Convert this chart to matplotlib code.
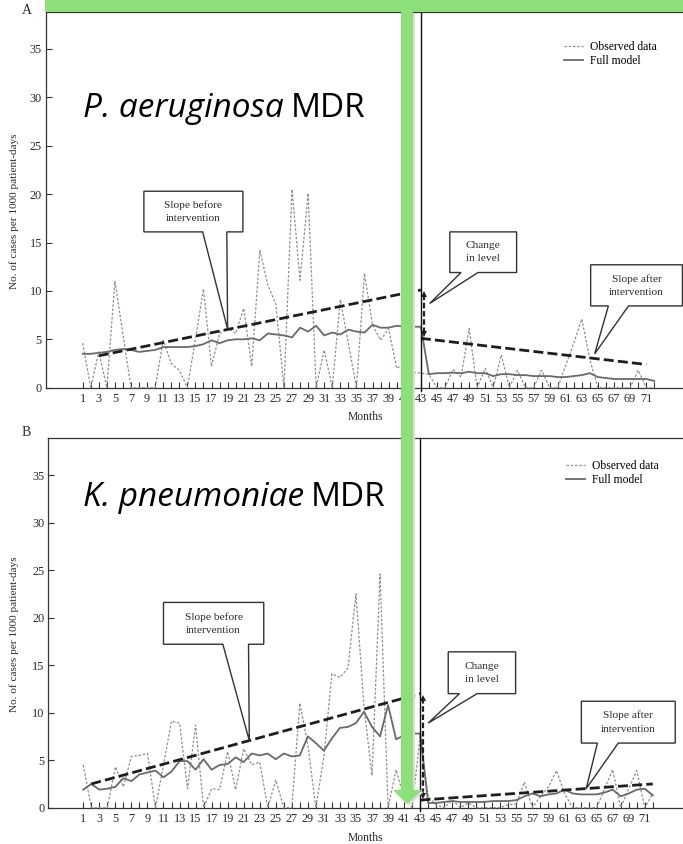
import matplotlib
matplotlib.use("Agg")
import matplotlib.pyplot as plt
from matplotlib.patches import Polygon, Rectangle
from matplotlib.lines import Line2D

# ---------------------------------------------------------------- data
months = list(range(1, 73))
month_tick_labels = [str(m) if m % 2 else "" for m in months]
y_ticks = [0, 5, 10, 15, 20, 25, 30, 35]
intervention_month = 43

# P. aeruginosa MDR, cases per 1000 patient-days
obs_pa = [4.6, 0.0, 3.7, 0.0, 11.0, 5.5, 0.0, 0.0, 0.0, 0.0,
          4.9, 2.5, 1.8, 0.0, 5.0, 10.2, 2.2, 5.6, 6.2, 5.6,
          8.2, 2.2, 14.2, 10.6, 8.6, 0.0, 20.5, 11.1, 20.1, 0.0,
          3.9, 0.0, 9.1, 4.6, 0.0, 11.8, 6.5, 4.9, 6.1, 2.0,
          2.5, 1.6, 1.5, 1.4, 0.0, 0.0, 1.9, 1.1, 6.1, 0.0,
          2.0, 0.0, 3.4, 0.0, 1.8, 0.0, 0.0, 1.8, 0.0, 0.0,
          2.3, 4.6, 7.1, 2.9, 0.0, 0.0, 0.0, 0.0, 0.0, 1.8,
          0.0, 0.0]
model_pa = [3.5, 3.5, 3.6, 3.7, 3.9, 4.0, 3.9, 3.7, 3.8, 3.9,
            4.2, 4.2, 4.2, 4.2, 4.3, 4.5, 4.9, 4.6, 4.9, 5.0,
            5.0, 5.1, 4.9, 5.6, 5.5, 5.4, 5.2, 6.2, 5.8, 6.4,
            5.4, 5.7, 5.5, 6.0, 5.8, 5.7, 6.5, 6.2, 6.2, 6.4,
            6.3, 6.3, 6.3, 1.4, 1.5, 1.5, 1.55, 1.5, 1.65, 1.5,
            1.5, 1.2, 1.4, 1.4, 1.3, 1.3, 1.2, 1.2, 1.2, 1.1,
            1.1, 1.2, 1.3, 1.5, 1.1, 1.0, 0.9, 0.9, 0.9, 0.9,
            0.9, 0.7]
trend_pa_pre_months = [3, 43]
trend_pa_pre = [3.3, 10.1]
trend_pa_post_months = [43, 71]
trend_pa_post = [5.1, 2.4]

# K. pneumoniae MDR, cases per 1000 patient-days
obs_kp = [4.5, 0.0, 0.0, 0.0, 4.3, 2.2, 5.4, 5.5, 5.7, 0.0,
          4.5, 9.1, 8.9, 2.0, 8.7, 0.0, 2.0, 1.9, 5.9, 1.9,
          6.2, 4.5, 4.8, 0.0, 2.9, 0.0, 0.0, 11.0, 6.6, 0.0,
          5.4, 14.1, 13.7, 14.7, 22.5, 10.6, 3.4, 24.6, 0.0, 4.0,
          1.0, 0.0, 7.5, 1.2, 0.3, 0.0, 0.8, 0.0, 0.5, 0.0,
          0.0, 0.0, 0.0, 0.3, 0.4, 2.7, 0.0, 1.2, 2.2, 3.9,
          1.5, 0.0, 0.0, 0.0, 0.0, 2.0, 4.0, 0.0, 2.0, 3.9,
          0.0, 1.5]
model_kp = [1.9, 2.5, 1.9, 2.0, 2.2, 3.1, 2.8, 3.5, 3.7, 3.9,
            3.2, 3.8, 4.9, 4.9, 4.0, 5.1, 4.0, 4.5, 4.6, 5.3,
            4.8, 5.7, 5.5, 5.7, 5.1, 5.7, 5.4, 5.5, 7.5, 6.8,
            6.0, 7.3, 8.4, 8.5, 8.9, 10.1, 8.5, 7.5, 10.8, 7.2,
            7.6, 7.8, 7.8, 0.5, 0.5, 0.6, 0.7, 0.6, 0.6, 0.6,
            0.6, 0.7, 0.7, 0.7, 0.8, 1.2, 1.5, 1.2, 1.4, 1.5,
            1.9, 1.5, 1.4, 1.4, 1.4, 1.6, 1.9, 1.2, 1.5, 1.9,
            2.0, 1.3]
trend_kp_pre_months = [2, 43]
trend_kp_pre = [2.5, 12.0]
trend_kp_post_months = [43, 72]
trend_kp_post = [0.8, 2.5]

legend_labels = ["Observed data", "Full model"]
callout_texts = ["Slope before\nintervention", "Change\nin level",
                 "Slope after\nintervention"]
y_label = "No. of cases per 1000 patient-days"
x_label = "Months"

# ---------------------------------------------------------------- figure
W, H = 683, 844
fig = plt.figure(figsize=(W / 100, H / 100), dpi=100)
fig.patch.set_facecolor("white")

SERIF = ["Liberation Serif", "DejaVu Serif"]
TITLE_FONT = ["Open Sans", "DejaVu Sans"]
INK = "#2a2a2a"
OBS_C = "#8f8f8f"
MOD_C = "#6a6a6a"
GREEN = "#8be07a"


def fx(px):
    return px / W


def fy(py):
    return 1 - py / H


def callout(ax, box, base, tip, text):
    x0, x1, y0, y1 = box
    pts = [(x0, y1), (x1, y1), (x1, y0), (base[1], y0), tip,
           (base[0], y0), (x0, y0)]
    ax.add_patch(Polygon(pts, closed=True, facecolor="white",
                         edgecolor="#333333", lw=1.0, zorder=6,
                         joinstyle="miter"))
    ax.text((x0 + x1) / 2, (y0 + y1) / 2, text, ha="center", va="center",
            family=SERIF, fontsize=8.2, color=INK, linespacing=1.6,
            zorder=7)


def panel(rect, xlim, ylim, obs, model, pre_m, pre_v, post_m, post_v,
          callouts, legend_xy):
    ax = fig.add_axes(rect)
    ax.set_xlim(*xlim)
    ax.set_ylim(*ylim)
    ax.spines["right"].set_visible(False)
    for side in ("left", "bottom", "top"):
        ax.spines[side].set_color("#333333")
        ax.spines[side].set_linewidth(0.9)

    ax.plot(months, obs, color=OBS_C, lw=0.9, ls=(0, (2.0, 1.4)),
            zorder=3, clip_on=False)
    ax.plot(months, model, color=MOD_C, lw=1.3, zorder=4)

    ax.plot(pre_m, pre_v, color="#1e1e1e", lw=2.0, ls=(0, (3.6, 1.5)),
            zorder=5)
    ax.plot(post_m, post_v, color="#1e1e1e", lw=2.0, ls=(0, (3.6, 1.5)),
            zorder=5)

    # change in level between the two segments
    xa = intervention_month + 0.35
    top, bottom = pre_v[-1], post_v[0]
    ax.plot([xa, xa], [bottom + 0.6, top - 0.6], color="#1e1e1e", lw=1.6,
            ls=(0, (2.5, 1.2)), zorder=5)
    ax.plot([xa], [top - 0.45], marker="^", ms=5, color="#1e1e1e",
            zorder=5, mew=0)
    ax.plot([xa], [bottom + 0.45], marker="v", ms=5, color="#1e1e1e",
            zorder=5, mew=0)

    ax.plot([intervention_month] * 2, [-0.35, ylim[1]], color="#111111",
            lw=1.0, zorder=5, clip_on=False)

    ax.set_xticks(months)
    ax.set_xticklabels(month_tick_labels)
    ax.set_yticks(y_ticks)
    ax.tick_params(axis="x", direction="in", length=4, width=0.8,
                   colors="#333333", pad=3.5, labelsize=8.8,
                   labelcolor=INK)
    ax.tick_params(axis="y", direction="in", length=4, width=0.8,
                   colors="#333333", pad=3, labelsize=8.8,
                   labelcolor=INK)
    for lab in ax.get_xticklabels() + ax.get_yticklabels():
        lab.set_family(SERIF)

    for (box, base, tip), txt in zip(callouts, callout_texts):
        callout(ax, box, base, tip, txt)

    handles = [Line2D([], [], color=OBS_C, lw=0.9, ls=(0, (2.0, 1.4))),
               Line2D([], [], color=MOD_C, lw=1.3)]
    ax.legend(handles, legend_labels, loc="upper left",
              bbox_to_anchor=(fx(legend_xy[0]), fy(legend_xy[1])),
              bbox_transform=fig.transFigure, frameon=False,
              prop={"family": SERIF, "size": 8.4}, handlelength=1.6,
              handletextpad=0.6, labelspacing=0.2, borderpad=0,
              borderaxespad=0)
    return ax


callouts_pa = [
    ((8.6, 20.9, 16.1, 20.3), (15.9, 18.9), (19.0, 6.05)),
    ((46.6, 54.9, 11.9, 16.1), (48.0, 50.1), (44.1, 8.7)),
    ((64.1, 75.5, 8.45, 12.7), (66.3, 68.8), (64.6, 3.5)),
]
callouts_kp = [
    ((11.0, 23.5, 17.2, 21.6), (18.4, 21.6), (21.7, 7.05)),
    ((46.5, 54.9, 12.0, 16.4), (47.9, 50.1), (44.0, 8.9)),
    ((63.1, 74.8, 6.8, 11.2), (65.1, 67.7), (63.7, 2.0)),
]

ax_a = panel([fx(46), fy(387.7), fx(W - 46), 376 / H], (-3.56, 75.57),
             (0, 38.85), obs_pa, model_pa, trend_pa_pre_months,
             trend_pa_pre, trend_pa_post_months, trend_pa_post,
             callouts_pa, (564, 41))
ax_b = panel([fx(48.3), fy(807.7), fx(W - 48.3), 369.7 / H],
             (-3.36, 75.77), (0, 38.9), obs_kp, model_kp,
             trend_kp_pre_months, trend_kp_pre, trend_kp_post_months,
             trend_kp_post, callouts_kp, (566, 460))

# axis labels and panel letters
for yc, ym in ((211, 417), (634, 838)):
    fig.text(fx(14), fy(yc), y_label, rotation=90, ha="center",
             va="center", family=SERIF, fontsize=8.1, color=INK)
    fig.text(fx(365), fy(ym), x_label, ha="center", va="center",
             family=SERIF, fontsize=8.4, color=INK)
fig.text(fx(27), fy(11), "A", ha="center", va="center", family=SERIF,
         fontsize=10, color=INK)
fig.text(fx(26), fy(433), "B", ha="center", va="center", family=SERIF,
         fontsize=10, color=INK)

# organism titles: italic genus/species followed by upright "MDR"
renderer = fig.canvas.get_renderer()
for name, base_y in (("P. aeruginosa", 117), ("K. pneumoniae", 505.5)):
    t = fig.text(fx(83), fy(base_y), name, ha="left", va="baseline",
                 family=TITLE_FONT, style="italic", fontsize=24,
                 color="black")
    bb = t.get_window_extent(renderer=renderer)
    fig.text(bb.x1 / W + fx(7), fy(base_y), "MDR", ha="left",
             va="baseline", family=TITLE_FONT, fontsize=24,
             color="black")

# green overlay: top band and downward arrow
fig.add_artist(Rectangle((fx(45), fy(11.7)), fx(W - 45), 11.7 / H,
                         transform=fig.transFigure, facecolor=GREEN,
                         edgecolor="none", zorder=20))
shaft_l, shaft_r, head_l, head_r, head_top, tip_y = 401, 413, 393, 422, 790, 804
arrow_pts = [(shaft_l, 11.7), (shaft_r, 11.7), (shaft_r, head_top),
             (head_r, head_top), ((shaft_l + shaft_r) / 2, tip_y),
             (head_l, head_top), (shaft_l, head_top)]
fig.add_artist(Polygon([(fx(x) + 0.003, fy(y) - 0.002) for x, y in arrow_pts],
                       closed=True, transform=fig.transFigure,
                       facecolor="#dcdcdc", edgecolor="none", zorder=19))
fig.add_artist(Polygon([(fx(x), fy(y)) for x, y in arrow_pts], closed=True,
                       transform=fig.transFigure, facecolor=GREEN,
                       edgecolor="none", zorder=20))

fig.savefig("out.png", dpi=100, facecolor="white")
